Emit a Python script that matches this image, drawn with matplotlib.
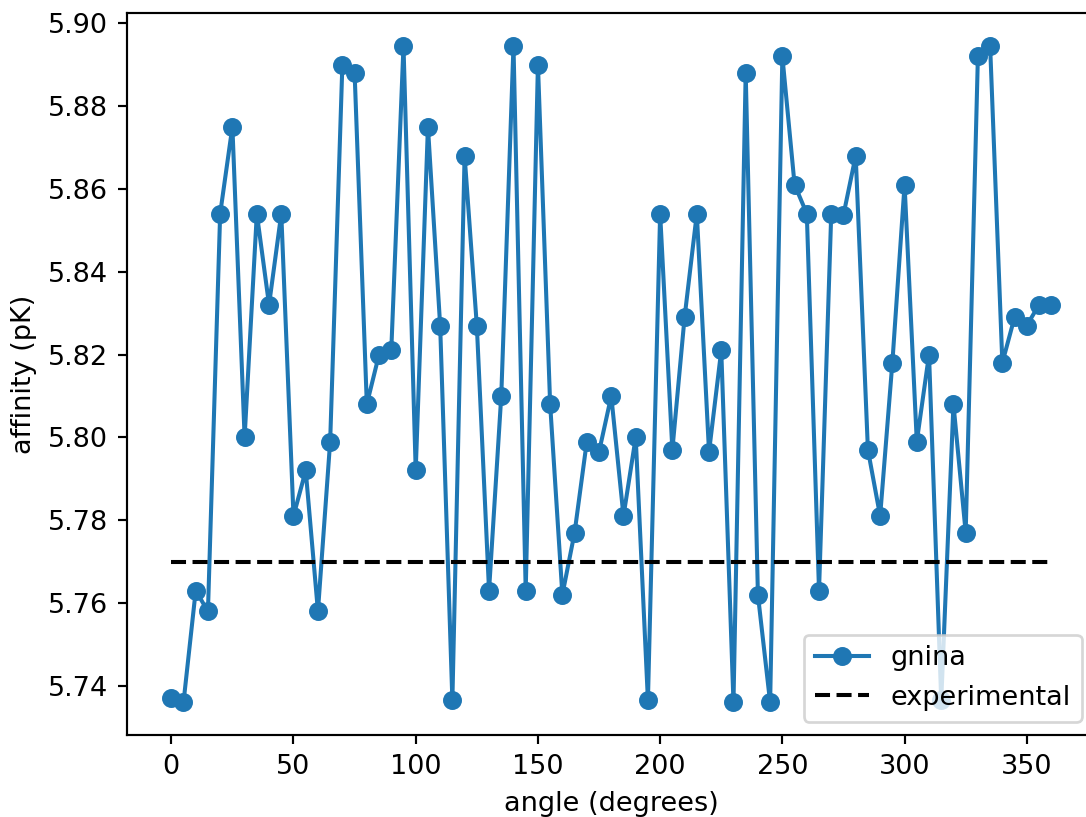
from matplotlib import pyplot as plt

angles = list(range(0, 361, 5))
gnina = [
    5.737, 5.736, 5.763, 5.758, 5.854, 5.875, 5.800, 5.854, 5.832, 5.854,
    5.781, 5.792, 5.758, 5.799, 5.890, 5.888, 5.808, 5.820, 5.821, 5.8945,
    5.792, 5.875, 5.827, 5.7365, 5.868, 5.827, 5.763, 5.810, 5.8945, 5.763,
    5.890, 5.808, 5.762, 5.777, 5.799, 5.7965, 5.810, 5.781, 5.800, 5.7365,
    5.854, 5.797, 5.829, 5.854, 5.7965, 5.821, 5.736, 5.888, 5.762, 5.736,
    5.892, 5.861, 5.854, 5.763, 5.854, 5.8537, 5.868, 5.797, 5.781, 5.818,
    5.861, 5.799, 5.820, 5.7365, 5.808, 5.777, 5.892, 5.8945, 5.818, 5.829,
    5.827, 5.832, 5.832,
]
experimental = 5.77

dpi = 195
fig = plt.figure(figsize=(1086 / dpi, 817 / dpi), dpi=dpi)
# the right edge of the axes runs slightly past the canvas
fig.subplots_adjust(left=0.1172, right=1.0085, bottom=0.100, top=0.984)

plt.plot(angles, gnina, marker="o", label="gnina")
plt.plot([angles[0], angles[-1]], [experimental, experimental], "k--", label="experimental")

plt.xlabel("angle (degrees)")
plt.ylabel("affinity (pK)")
plt.legend(loc="lower right")
plt.savefig("out.png", dpi=dpi)
